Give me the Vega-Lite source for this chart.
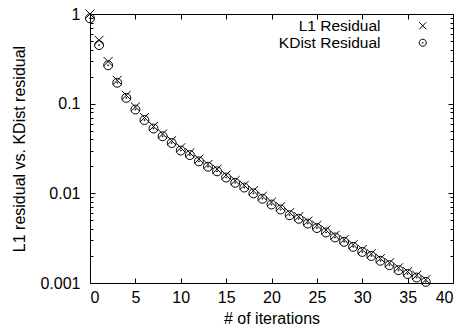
{
  "$schema": "https://vega.github.io/schema/vega-lite/v6.json",
  "autosize": "none",
  "padding": {"left": 90, "top": 14, "right": 8, "bottom": 45},
  "width": 363,
  "height": 269,
  "config": {
    "view": {"stroke": "black", "strokeWidth": 1},
    "font": "Liberation Sans",
    "axis": {
      "domain": false,
      "grid": false,
      "tickColor": "black",
      "tickWidth": 1,
      "labelColor": "black",
      "labelFont": "Liberation Sans",
      "labelFontSize": 16,
      "titleFont": "Liberation Sans",
      "titleFontSize": 16,
      "titleFontWeight": "normal",
      "titleColor": "black"
    },
    "legend": {
      "labelFont": "Liberation Sans",
      "labelFontSize": 15.5,
      "labelColor": "black"
    }
  },
  "data": {
    "values": [
      {"iter": 0, "series": "L1 Residual", "value": 1.0},
      {"iter": 1, "series": "L1 Residual", "value": 0.51},
      {"iter": 2, "series": "L1 Residual", "value": 0.295},
      {"iter": 3, "series": "L1 Residual", "value": 0.182},
      {"iter": 4, "series": "L1 Residual", "value": 0.124},
      {"iter": 5, "series": "L1 Residual", "value": 0.092},
      {"iter": 6, "series": "L1 Residual", "value": 0.070},
      {"iter": 7, "series": "L1 Residual", "value": 0.0558},
      {"iter": 8, "series": "L1 Residual", "value": 0.046},
      {"iter": 9, "series": "L1 Residual", "value": 0.0387},
      {"iter": 10, "series": "L1 Residual", "value": 0.0322},
      {"iter": 11, "series": "L1 Residual", "value": 0.0283},
      {"iter": 12, "series": "L1 Residual", "value": 0.0241},
      {"iter": 13, "series": "L1 Residual", "value": 0.0210},
      {"iter": 14, "series": "L1 Residual", "value": 0.0186},
      {"iter": 15, "series": "L1 Residual", "value": 0.0160},
      {"iter": 16, "series": "L1 Residual", "value": 0.0139},
      {"iter": 17, "series": "L1 Residual", "value": 0.0123},
      {"iter": 18, "series": "L1 Residual", "value": 0.0107},
      {"iter": 19, "series": "L1 Residual", "value": 0.0093},
      {"iter": 20, "series": "L1 Residual", "value": 0.0080},
      {"iter": 21, "series": "L1 Residual", "value": 0.0071},
      {"iter": 22, "series": "L1 Residual", "value": 0.0061},
      {"iter": 23, "series": "L1 Residual", "value": 0.0055},
      {"iter": 24, "series": "L1 Residual", "value": 0.0049},
      {"iter": 25, "series": "L1 Residual", "value": 0.0044},
      {"iter": 26, "series": "L1 Residual", "value": 0.0039},
      {"iter": 27, "series": "L1 Residual", "value": 0.0034},
      {"iter": 28, "series": "L1 Residual", "value": 0.00305},
      {"iter": 29, "series": "L1 Residual", "value": 0.00268},
      {"iter": 30, "series": "L1 Residual", "value": 0.00236},
      {"iter": 31, "series": "L1 Residual", "value": 0.00212},
      {"iter": 32, "series": "L1 Residual", "value": 0.00188},
      {"iter": 33, "series": "L1 Residual", "value": 0.00168},
      {"iter": 34, "series": "L1 Residual", "value": 0.00148},
      {"iter": 35, "series": "L1 Residual", "value": 0.00134},
      {"iter": 36, "series": "L1 Residual", "value": 0.00122},
      {"iter": 37, "series": "L1 Residual", "value": 0.00109},
      {"iter": 0, "series": "KDist Residual", "value": 0.895},
      {"iter": 1, "series": "KDist Residual", "value": 0.45},
      {"iter": 2, "series": "KDist Residual", "value": 0.268},
      {"iter": 3, "series": "KDist Residual", "value": 0.171},
      {"iter": 4, "series": "KDist Residual", "value": 0.116},
      {"iter": 5, "series": "KDist Residual", "value": 0.086},
      {"iter": 6, "series": "KDist Residual", "value": 0.0656},
      {"iter": 7, "series": "KDist Residual", "value": 0.0528},
      {"iter": 8, "series": "KDist Residual", "value": 0.0433},
      {"iter": 9, "series": "KDist Residual", "value": 0.0364},
      {"iter": 10, "series": "KDist Residual", "value": 0.0300},
      {"iter": 11, "series": "KDist Residual", "value": 0.0267},
      {"iter": 12, "series": "KDist Residual", "value": 0.0227},
      {"iter": 13, "series": "KDist Residual", "value": 0.0198},
      {"iter": 14, "series": "KDist Residual", "value": 0.0176},
      {"iter": 15, "series": "KDist Residual", "value": 0.0150},
      {"iter": 16, "series": "KDist Residual", "value": 0.0131},
      {"iter": 17, "series": "KDist Residual", "value": 0.0116},
      {"iter": 18, "series": "KDist Residual", "value": 0.0100},
      {"iter": 19, "series": "KDist Residual", "value": 0.0087},
      {"iter": 20, "series": "KDist Residual", "value": 0.0075},
      {"iter": 21, "series": "KDist Residual", "value": 0.0066},
      {"iter": 22, "series": "KDist Residual", "value": 0.0057},
      {"iter": 23, "series": "KDist Residual", "value": 0.0052},
      {"iter": 24, "series": "KDist Residual", "value": 0.0046},
      {"iter": 25, "series": "KDist Residual", "value": 0.0041},
      {"iter": 26, "series": "KDist Residual", "value": 0.00366},
      {"iter": 27, "series": "KDist Residual", "value": 0.00322},
      {"iter": 28, "series": "KDist Residual", "value": 0.00288},
      {"iter": 29, "series": "KDist Residual", "value": 0.00253},
      {"iter": 30, "series": "KDist Residual", "value": 0.00222},
      {"iter": 31, "series": "KDist Residual", "value": 0.0020},
      {"iter": 32, "series": "KDist Residual", "value": 0.00177},
      {"iter": 33, "series": "KDist Residual", "value": 0.00158},
      {"iter": 34, "series": "KDist Residual", "value": 0.00139},
      {"iter": 35, "series": "KDist Residual", "value": 0.00126},
      {"iter": 36, "series": "KDist Residual", "value": 0.00115},
      {"iter": 37, "series": "KDist Residual", "value": 0.00103}
    ]
  },
  "resolve": {"axis": {"x": "independent", "y": "independent"}},
  "layer": [
    {
      "mark": {"type": "point", "filled": false, "color": "black", "strokeWidth": 1, "size": 80, "clip": false, "opacity": 1},
      "encoding": {
        "x": {
          "field": "iter", "type": "quantitative",
          "scale": {"domain": [0, 40], "nice": false, "zero": false},
          "axis": {"orient": "bottom", "values": [0, 5, 10, 15, 20, 25, 30, 35, 40], "tickSize": -5, "labelPadding": 11, "title": "# of iterations", "titlePadding": 5}
        },
        "y": {
          "field": "value", "type": "quantitative",
          "scale": {"type": "log", "domain": [0.001, 1], "nice": false},
          "axis": {"orient": "left", "values": [0.001, 0.01, 0.1, 1], "format": "~g", "tickSize": -5, "labelPadding": 15, "title": "L1 residual vs. KDist residual", "titlePadding": 12}
        },
        "shape": {
          "field": "series", "type": "nominal",
          "scale": {
            "domain": ["L1 Residual", "KDist Residual"],
            "range": ["M-1,-1L1,1M-1,1L1,-1", "M-1,0A1,1,0,1,0,1,0A1,1,0,1,0,-1,0ZM-0.12,0A0.12,0.12,0,1,0,0.12,0A0.12,0.12,0,1,0,-0.12,0Z"]
          },
          "legend": {
            "orient": "none", "legendX": 325, "legendY": 4, "title": null,
            "padding": 0, "labelAlign": "right", "labelOffset": -50,
            "symbolSize": 50, "symbolStrokeColor": "black", "symbolStrokeWidth": 1,
            "symbolFillColor": "transparent", "rowPadding": -2
          }
        }
      }
    },
    {
      "mark": {"type": "point", "opacity": 0},
      "encoding": {
        "x": {"field": "iter", "type": "quantitative", "axis": null},
        "y": {
          "field": "value", "type": "quantitative",
          "axis": {"orient": "left", "values": [0.002, 0.003, 0.004, 0.005, 0.006, 0.007, 0.008, 0.009, 0.02, 0.03, 0.04, 0.05, 0.06, 0.07, 0.08, 0.09, 0.2, 0.3, 0.4, 0.5, 0.6, 0.7, 0.8, 0.9], "labels": false, "tickSize": -3, "title": null}
        }
      }
    },
    {
      "mark": {"type": "point", "opacity": 0},
      "encoding": {
        "x": {
          "field": "iter", "type": "quantitative",
          "axis": {"orient": "top", "values": [0, 5, 10, 15, 20, 25, 30, 35, 40], "labels": false, "tickSize": -5, "title": null}
        },
        "y": {
          "field": "value", "type": "quantitative",
          "axis": {"orient": "right", "values": [0.001, 0.01, 0.1, 1], "labels": false, "tickSize": -5, "title": null}
        }
      }
    },
    {
      "mark": {"type": "point", "opacity": 0},
      "encoding": {
        "x": {"field": "iter", "type": "quantitative", "axis": null},
        "y": {
          "field": "value", "type": "quantitative",
          "axis": {"orient": "right", "values": [0.002, 0.003, 0.004, 0.005, 0.006, 0.007, 0.008, 0.009, 0.02, 0.03, 0.04, 0.05, 0.06, 0.07, 0.08, 0.09, 0.2, 0.3, 0.4, 0.5, 0.6, 0.7, 0.8, 0.9], "labels": false, "tickSize": -3, "title": null}
        }
      }
    }
  ]
}
